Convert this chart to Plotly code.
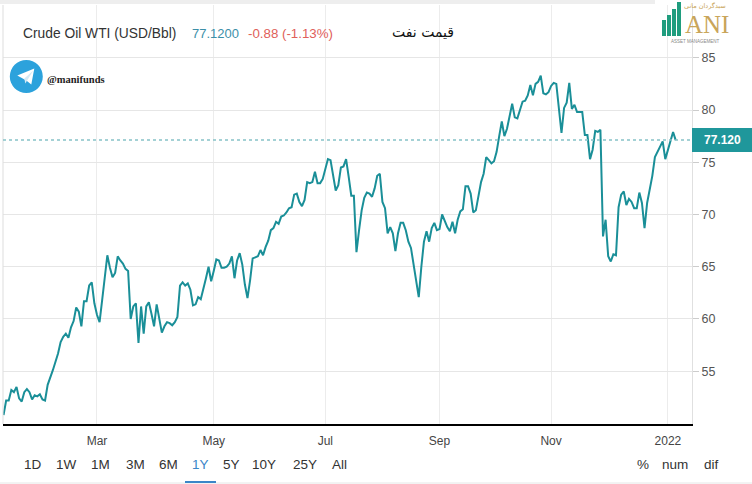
import plotly.graph_objects as go

# WTI crude, daily closes
dates = [
    "2021-01-08", "2021-01-11", "2021-01-12", "2021-01-13", "2021-01-14", "2021-01-15",
    "2021-01-18", "2021-01-19", "2021-01-20", "2021-01-21", "2021-01-22", "2021-01-25",
    "2021-01-26", "2021-01-27", "2021-01-28", "2021-01-29", "2021-02-01", "2021-02-02",
    "2021-02-04", "2021-02-05", "2021-02-08", "2021-02-09", "2021-02-10", "2021-02-11",
    "2021-02-12", "2021-02-15", "2021-02-16", "2021-02-17", "2021-02-18", "2021-02-19",
    "2021-02-22", "2021-02-23", "2021-02-24", "2021-02-25", "2021-02-26", "2021-03-01",
    "2021-03-02", "2021-03-03", "2021-03-04", "2021-03-05", "2021-03-08", "2021-03-09",
    "2021-03-10", "2021-03-11", "2021-03-12", "2021-03-15", "2021-03-16", "2021-03-17",
    "2021-03-18", "2021-03-19", "2021-03-22", "2021-03-23", "2021-03-24", "2021-03-25",
    "2021-03-26", "2021-03-29", "2021-03-30", "2021-03-31", "2021-04-01", "2021-04-05",
    "2021-04-06", "2021-04-07", "2021-04-08", "2021-04-09", "2021-04-12", "2021-04-13",
    "2021-04-14", "2021-04-15", "2021-04-16", "2021-04-19", "2021-04-20", "2021-04-21",
    "2021-04-22", "2021-04-23", "2021-04-26", "2021-04-27", "2021-04-28", "2021-04-29",
    "2021-04-30", "2021-05-03", "2021-05-04", "2021-05-05", "2021-05-06", "2021-05-07",
    "2021-05-10", "2021-05-11", "2021-05-12", "2021-05-13", "2021-05-14", "2021-05-17",
    "2021-05-18", "2021-05-19", "2021-05-20", "2021-05-21", "2021-05-24", "2021-05-25",
    "2021-05-26", "2021-05-27", "2021-05-28", "2021-05-31", "2021-06-01", "2021-06-02",
    "2021-06-03", "2021-06-04", "2021-06-07", "2021-06-08", "2021-06-09", "2021-06-10",
    "2021-06-11", "2021-06-14", "2021-06-15", "2021-06-16", "2021-06-17", "2021-06-18",
    "2021-06-21", "2021-06-22", "2021-06-23", "2021-06-24", "2021-06-25", "2021-06-28",
    "2021-06-29", "2021-06-30", "2021-07-01", "2021-07-02", "2021-07-05", "2021-07-06",
    "2021-07-07", "2021-07-08", "2021-07-09", "2021-07-12", "2021-07-13", "2021-07-14",
    "2021-07-15", "2021-07-16", "2021-07-19", "2021-07-20", "2021-07-21", "2021-07-22",
    "2021-07-23", "2021-07-26", "2021-07-27", "2021-07-28", "2021-07-29", "2021-07-30",
    "2021-08-02", "2021-08-03", "2021-08-04", "2021-08-05", "2021-08-06", "2021-08-09",
    "2021-08-10", "2021-08-11", "2021-08-12", "2021-08-13", "2021-08-16", "2021-08-17",
    "2021-08-18", "2021-08-19", "2021-08-20", "2021-08-23", "2021-08-24", "2021-08-25",
    "2021-08-26", "2021-08-27", "2021-08-30", "2021-08-31", "2021-09-01", "2021-09-02",
    "2021-09-03", "2021-09-06", "2021-09-07", "2021-09-08", "2021-09-09", "2021-09-10",
    "2021-09-13", "2021-09-14", "2021-09-15", "2021-09-16", "2021-09-17", "2021-09-20",
    "2021-09-21", "2021-09-22", "2021-09-23", "2021-09-24", "2021-09-27", "2021-09-28",
    "2021-09-29", "2021-09-30", "2021-10-01", "2021-10-04", "2021-10-05", "2021-10-06",
    "2021-10-07", "2021-10-08", "2021-10-11", "2021-10-12", "2021-10-13", "2021-10-14",
    "2021-10-15", "2021-10-18", "2021-10-19", "2021-10-20", "2021-10-21", "2021-10-22",
    "2021-10-25", "2021-10-26", "2021-10-27", "2021-10-28", "2021-10-29", "2021-11-01",
    "2021-11-02", "2021-11-03", "2021-11-04", "2021-11-05", "2021-11-08", "2021-11-09",
    "2021-11-10", "2021-11-11", "2021-11-12", "2021-11-15", "2021-11-16", "2021-11-17",
    "2021-11-18", "2021-11-19", "2021-11-22", "2021-11-23", "2021-11-24", "2021-11-25",
    "2021-11-26", "2021-11-29", "2021-11-30", "2021-12-01", "2021-12-02", "2021-12-03",
    "2021-12-06", "2021-12-07", "2021-12-08", "2021-12-09", "2021-12-10", "2021-12-13",
    "2021-12-14", "2021-12-15", "2021-12-16", "2021-12-17", "2021-12-20", "2021-12-21",
    "2021-12-22", "2021-12-23", "2021-12-24", "2021-12-27", "2021-12-28", "2021-12-29",
    "2021-12-30", "2021-12-31", "2022-01-03", "2022-01-04", "2022-01-05", "2022-01-06",
]
prices = [
    50.8, 52.2, 52.2, 53.2, 53.0, 53.5,
    52.4, 52.1, 53.0, 53.3, 53.0, 52.3,
    52.7, 52.6, 52.8, 52.3, 52.2, 53.7,
    55.1, 55.9, 56.7, 57.8, 58.3, 58.6,
    58.2, 59.2, 59.8, 61.1, 60.7, 59.3,
    61.7, 61.7, 63.2, 63.5, 61.5, 60.4,
    59.7, 61.8, 64.0, 66.1, 64.9, 64.0,
    64.4, 66.0, 65.6, 65.3, 64.8, 64.6,
    60.0, 61.2, 61.5, 57.7, 61.2, 58.6,
    61.2, 61.6, 60.5, 59.3, 61.4, 58.7,
    59.3, 59.7, 59.6, 59.4, 59.7, 60.2,
    63.2, 63.5, 63.2, 63.4, 62.8, 61.3,
    61.4, 62.1, 61.9, 62.8, 63.9, 65.0,
    63.6, 64.6, 65.7, 65.6, 64.9, 64.9,
    65.0, 65.3, 66.0, 63.9, 65.6, 66.3,
    65.2, 63.3, 62.0, 63.7, 65.8, 65.9,
    66.0, 66.6, 66.1, 66.9, 67.5, 68.5,
    68.7, 69.3, 69.1, 69.8, 69.9, 70.2,
    70.6, 70.7, 71.9, 72.0, 71.2, 70.8,
    71.4, 73.1, 73.0, 73.1, 74.1, 73.0,
    73.0, 73.4, 74.4, 75.3, 75.2, 73.8,
    72.3, 72.8, 74.5, 74.6, 75.3, 73.6,
    71.8, 71.8, 66.4, 68.5, 70.4, 71.6,
    72.1, 72.0, 71.7, 72.5, 73.7, 73.9,
    71.2, 70.6, 68.2, 68.8, 68.2, 66.5,
    68.2, 69.2, 69.2, 68.5, 67.4, 66.8,
    65.3, 63.4, 62.1, 65.0, 67.4, 68.4,
    67.4, 68.7, 69.2, 68.5, 68.6, 70.0,
    69.3, 68.8, 68.4, 69.3, 68.2, 69.5,
    70.3, 70.5, 72.7, 72.7, 72.0, 70.2,
    70.4, 71.9, 73.1, 73.9, 75.5, 75.2,
    74.9, 75.1, 76.0, 77.5, 78.9, 77.5,
    78.2, 79.4, 80.6, 79.3, 79.2, 80.0,
    80.8, 80.9, 81.4, 82.4, 81.4, 82.5,
    82.7, 83.3, 81.6, 81.5, 81.7, 82.3,
    82.6, 82.5, 80.3, 77.8, 80.2, 80.7,
    82.6, 80.1, 80.5, 79.8, 79.8, 79.8,
    77.6, 77.6, 75.3, 76.2, 78.0, 77.9,
    78.1, 67.9, 69.5, 66.0, 65.5, 66.2,
    66.1, 70.7, 71.9, 72.2, 70.9, 71.5,
    71.2, 70.6, 70.6, 72.1, 71.1, 68.7,
    71.1, 72.3, 73.7, 75.5, 76.0, 76.4,
    77.0, 75.3, 76.2, 77.1, 77.9, 77.12,
]

y_ticks = [55, 60, 65, 70, 75, 80, 85]
month_ticks = ["2021-03-01", "2021-05-03", "2021-07-01", "2021-09-01", "2021-11-01", "2022-01-03"]
month_labels = ["Mar", "May", "Jul", "Sep", "Nov", "2022"]

last_price = 77.12
title_text = "Crude Oil WTI (USD/Bbl)"
last_text = "77.1200"
change_text = "-0.88 (-1.13%)"
persian_title = "قیمت نفت"
channel = "@manifunds"
range_buttons = ["1D", "1W", "1M", "3M", "6M", "1Y", "5Y", "10Y", "25Y", "All"]
mode_buttons = ["%", "num", "dif"]

LINE = "#1a8f98"
BOX = "#1f979b"

# page geometry (pixels)
W, H = 752, 484
L, R, T, B = 3, 60, 5, 60
PW, PH = W - L - R, H - T - B


def px(x):
    return (x - L) / PW


def py(y):
    return (H - B - y) / PH


fig = go.Figure()
fig.add_trace(go.Scatter(
    x=dates, y=prices, mode="lines",
    line=dict(color=LINE, width=2),
    hoverinfo="skip", showlegend=False,
))

shapes = [
    # grey strip at the very top
    dict(type="rect", xref="paper", yref="paper", x0=px(0), x1=px(655), y0=py(4), y1=py(0),
         fillcolor="#eeeeee", line_width=0, layer="below"),
    # left border
    dict(type="line", xref="paper", yref="paper", x0=0, x1=0, y0=0, y1=1,
         line=dict(color="#dddddd", width=1)),
    # bottom border of the widget
    dict(type="line", xref="paper", yref="paper", x0=px(0), x1=px(752), y0=py(483), y1=py(483),
         line=dict(color="#e6e6e6", width=1)),
    # last price dotted line
    dict(type="line", xref="paper", yref="y", x0=0, x1=1, y0=last_price, y1=last_price,
         line=dict(color="#86c2c8", width=1.5, dash="dot")),
    # last price box
    dict(type="rect", xref="paper", yref="y", x0=1, x1=px(752),
         ysizemode="pixel", yanchor=last_price, y0=-12, y1=12,
         fillcolor=BOX, line_width=0),
    # telegram badge
    dict(type="circle", xref="paper", yref="paper",
         xsizemode="pixel", ysizemode="pixel", xanchor=px(26.3), yanchor=py(76.5),
         x0=-16.5, x1=16.5, y0=-16.5, y1=16.5,
         fillcolor="#2ca2dc", line_width=0),
    dict(type="path", xref="paper", yref="paper",
         xsizemode="pixel", ysizemode="pixel", xanchor=px(26.3), yanchor=py(76.5),
         path="M -9,1 L 8,8 L 5,-8 L 0,-4 Z",
         fillcolor="white", line_width=0),
    dict(type="path", xref="paper", yref="paper",
         xsizemode="pixel", ysizemode="pixel", xanchor=px(26.3), yanchor=py(76.5),
         path="M -2,-2 L 7,6 L -1,-7 Z",
         fillcolor="#d4e9f5", line_width=0),
    # selected range underline
    dict(type="line", xref="paper", yref="paper", x0=px(185), x1=px(216), y0=py(482), y1=py(482),
         line=dict(color="#3b86c8", width=2)),
]

# logo bars
for x0, top in [(662, 20), (667, 15), (672, 9), (677, 2)]:
    shapes.append(dict(type="rect", xref="paper", yref="paper",
                       x0=px(x0), x1=px(x0 + 4), y0=py(36), y1=py(top),
                       fillcolor="#1f9d7e", line_width=0))

annotations = [
    dict(text=title_text, x=px(21), y=py(33), xanchor="left", yanchor="middle",
         font=dict(size=13.8, color="#333333")),
    dict(text=last_text, x=px(190), y=py(33), xanchor="left", yanchor="middle",
         font=dict(size=13, color="#3c8fa8")),
    dict(text=change_text, x=px(246), y=py(33), xanchor="left", yanchor="middle",
         font=dict(size=13.3, color="#e0605a")),
    dict(text=persian_title, x=px(390), y=py(32), xanchor="left", yanchor="middle",
         font=dict(size=14, color="#111111", family="DejaVu Sans")),
    dict(text="<b>" + channel + "</b>", x=px(45), y=py(79), xanchor="left", yanchor="middle",
         font=dict(size=10.5, color="#222222", family="Liberation Serif")),
    dict(text="ANI", x=px(683), y=py(24), xanchor="left", yanchor="middle",
         font=dict(size=25, color="#c9a55a", family="Liberation Serif")),
    dict(text="سبدگردان مانی", x=px(705), y=py(6), xanchor="center", yanchor="middle",
         font=dict(size=6.5, color="#c9a55a", family="DejaVu Sans")),
    dict(text="ASSET MANAGEMENT", x=px(695), y=py(41.5), xanchor="center", yanchor="middle",
         font=dict(size=4.5, color="#888888")),
    dict(text="<b>77.120</b>", x=px(722), y=last_price, yref="y", xanchor="center", yanchor="middle",
         font=dict(size=12, color="white")),
]

btn_x = [33, 66, 100.7, 135.7, 168.8, 200.5, 231, 263.8, 304.6, 339]
for label, x in zip(range_buttons, btn_x):
    annotations.append(dict(text=label, x=px(x), y=py(465), xanchor="center", yanchor="middle",
                            font=dict(size=13.5, color="#3b86c8" if label == "1Y" else "#333333")))
for label, x in zip(mode_buttons, [642.7, 675.3, 711]):
    annotations.append(dict(text=label, x=px(x), y=py(465), xanchor="center", yanchor="middle",
                            font=dict(size=13.5, color="#333333")))

for a in annotations:
    a.setdefault("xref", "paper")
    a.setdefault("yref", "paper")
    a["showarrow"] = False

fig.update_layout(
    width=W, height=H,
    margin=dict(l=L, r=R, t=T, b=B),
    paper_bgcolor="white", plot_bgcolor="white",
    font=dict(family="Liberation Sans, Arial, sans-serif", color="#333333"),
    showlegend=False,
    hovermode=False,
    shapes=shapes,
    annotations=annotations,
    xaxis=dict(
        type="date",
        range=["2021-01-07 19:00", "2022-01-14 07:00"],
        rangebreaks=[dict(bounds=["sat", "mon"])],
        tickvals=month_ticks, ticktext=month_labels,
        showgrid=True, gridcolor="#ececec", gridwidth=1,
        showline=True, linecolor="#000000", linewidth=1.5,
        ticks="", ticklabelstandoff=5,
        tickfont=dict(size=12, color="#444444"),
        zeroline=False, fixedrange=True,
    ),
    yaxis=dict(
        side="right",
        range=[49.95, 90.05],
        tickvals=y_ticks,
        showgrid=True, gridcolor="#e6e6e6", gridwidth=1,
        showline=True, linecolor="#e0e0e0", linewidth=1,
        ticks="outside", ticklen=6, tickcolor="#cccccc",
        tickfont=dict(size=12.5, color="#555555"),
        zeroline=False, fixedrange=True,
    ),
)

# the page's default body margin would push the figure 8px in
fig.write_html("out.html", config={"displayModeBar": False},
               post_script="document.body.style.margin='0';")
